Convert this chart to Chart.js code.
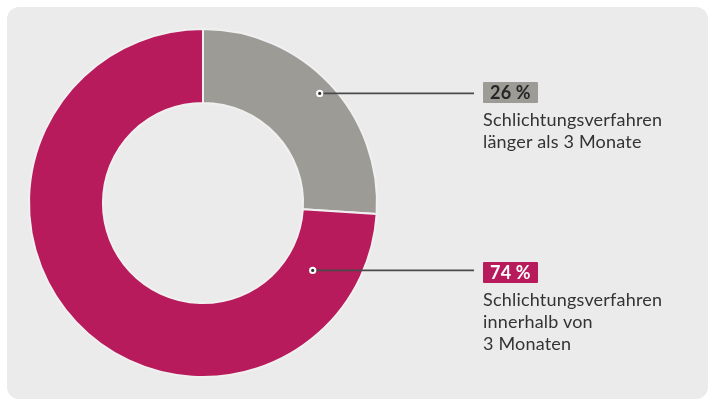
<!DOCTYPE html>
<html>
<head>
<meta charset="utf-8">
<script src="https://cdn.jsdelivr.net/npm/chart.js@4.4.1/dist/chart.umd.min.js"></script>
<style>
  html, body { margin: 0; padding: 0; background: #ffffff; }
  #wrap { position: relative; width: 710px; height: 404px; overflow: hidden; }
  #panel { position: absolute; left: 7px; top: 7px; width: 701px; height: 392px; background: #ebebeb; border-radius: 12px; }
  #c { position: absolute; left: 0; top: 0; }
  .lbl { position: absolute; left: 483px; font-family: Lato, "Open Sans", sans-serif; font-size: 18px; letter-spacing: 0.2px; color: #333333; line-height: 22px; }
  .badge { display: inline-block; padding: 0 7px; height: 21px; line-height: 21px; font-weight: 700; font-size: 18px; border-radius: 1px; margin-bottom: 5px; }
</style>
</head>
<body>
<div id="wrap">
  <div id="panel"></div>
  <canvas id="c" width="710" height="404"></canvas>
  <div id="labels"></div>
</div>
<script>
const categories = ["Schlichtungsverfahren länger als 3 Monate", "Schlichtungsverfahren innerhalb von 3 Monaten"];
const values = [26, 74];
const percentLabels = ["26 %", "74 %"];
const labelLines = [["Schlichtungsverfahren", "länger als 3 Monate"], ["Schlichtungsverfahren", "innerhalb von", "3 Monaten"]];
const colors = ["#9c9b96", "#b81b5c"];
const badgeTextColors = ["#262626", "#ffffff"];
const labelTops = [81, 261];
// leader anchor: fraction along the arc and fraction of outer radius
const anchorAngleFrac = [0.5, 0.105];
const anchorRadiusFrac = [0.92, 0.74];
const leaderEndX = 474;

const leaderPlugin = {
  id: 'leaders',
  afterDatasetsDraw(chart) {
    const ctx = chart.ctx;
    const meta = chart.getDatasetMeta(0);
    meta.data.forEach((arc, i) => {
      const p = arc.getProps(['x','y','startAngle','endAngle','innerRadius','outerRadius'], true);
      const a = p.startAngle + (p.endAngle - p.startAngle) * anchorAngleFrac[i];
      const rr = p.outerRadius * anchorRadiusFrac[i];
      const x = p.x + Math.cos(a) * rr;
      const y = p.y + Math.sin(a) * rr;
      ctx.save();
      ctx.strokeStyle = '#4a4a4a';
      ctx.lineWidth = 1.6;
      ctx.beginPath();
      ctx.moveTo(x, y);
      ctx.lineTo(leaderEndX, y);
      ctx.stroke();
      ctx.fillStyle = '#ffffff';
      ctx.beginPath(); ctx.arc(x, y, 3.6, 0, Math.PI * 2); ctx.fill();
      ctx.fillStyle = '#333333';
      ctx.beginPath(); ctx.arc(x, y, 1.6, 0, Math.PI * 2); ctx.fill();
      ctx.restore();
    });
  }
};

new Chart(document.getElementById('c'), {
  type: 'doughnut',
  data: {
    labels: categories,
    datasets: [{
      data: values,
      backgroundColor: colors,
      borderColor: '#f0f0f0',
      borderWidth: 2
    }]
  },
  options: {
    responsive: false,
    animation: false,
    cutout: '57.5%',
    layout: { padding: { left: 28, top: 28, right: 332, bottom: 26 } },
    plugins: { legend: { display: false }, tooltip: { enabled: false } }
  },
  plugins: [leaderPlugin]
});

const lbl = document.getElementById('labels');
values.forEach((v, i) => {
  const d = document.createElement('div');
  d.className = 'lbl';
  d.style.top = labelTops[i] + 'px';
  const b = document.createElement('div');
  b.className = 'badge';
  b.style.background = colors[i];
  b.style.color = badgeTextColors[i];
  b.textContent = percentLabels[i];
  d.appendChild(b);
  labelLines[i].forEach(t => {
    const l = document.createElement('div');
    l.textContent = t;
    d.appendChild(l);
  });
  lbl.appendChild(d);
});
</script>
</body>
</html>
